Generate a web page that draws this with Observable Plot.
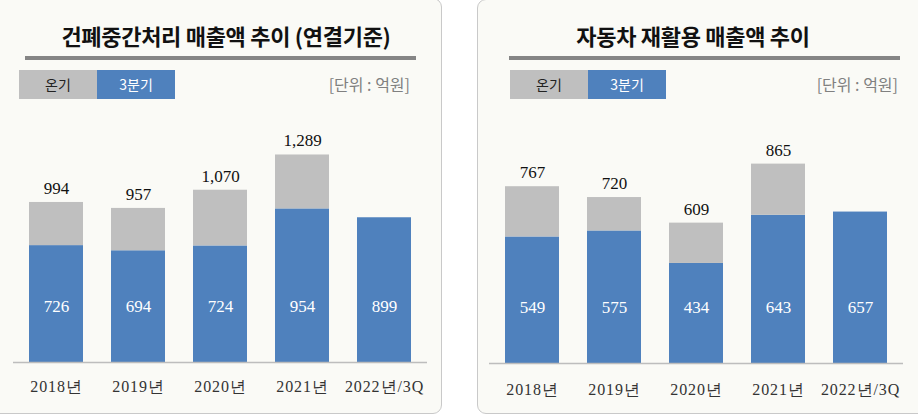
<!DOCTYPE html>
<html>
<head>
<meta charset="utf-8">
<script src="https://cdn.jsdelivr.net/npm/d3@7"></script>
<script src="https://cdn.jsdelivr.net/npm/@observablehq/plot@0.6"></script>
<style>
  html, body { margin: 0; padding: 0; background: #ffffff; }
  body { width: 918px; height: 416px; position: relative; overflow: hidden; font-family: "Noto Sans CJK KR", "Noto Sans", sans-serif; }
  .card { position: absolute; background: #fafaf6; border: 1.5px solid #c9c9c9; border-radius: 9px; box-sizing: border-box; }
  .title { position: absolute; top: 17px; font-weight: 700; font-size: 22px; color: #111; text-align: center; line-height: 36px; letter-spacing: -0.3px; }
  .rule { position: absolute; top: 56px; height: 4px; background: #858585; }
  .leg { position: absolute; top: 70px; height: 29px; width: 78px; font-size: 14px; line-height: 29px; text-align: center; }
  .unit { position: absolute; top: 70px; line-height: 29px; font-size: 16px; color: #808080; text-align: right; }
  .plot { position: absolute; top: 100px; }
  g[aria-label="x-axis tick label"] text { letter-spacing: 0.9px; }
</style>
</head>
<body>
<div class="card" style="left:-12px; top:-2px; width:454px; height:416px;"></div>
<div class="card" style="left:477px; top:-1px; width:460px; height:415px;"></div>

<div class="title" style="left:0; width:452px;">건폐중간처리 매출액 추이 (연결기준)</div>
<div class="rule" style="left:25px; width:391px;"></div>
<div class="leg" style="left:19px; background:#bfbfbf; color:#222;">온기</div>
<div class="leg" style="left:97px; background:#4f81bd; color:#fff;">3분기</div>
<div class="unit" style="left:250px; width:160px;">[단위 : 억원]</div>

<div class="title" style="left:478px; width:430px;">자동차 재활용 매출액 추이</div>
<div class="rule" style="left:509px; width:391px;"></div>
<div class="leg" style="left:510px; background:#bfbfbf; color:#222;">온기</div>
<div class="leg" style="left:588px; background:#4f81bd; color:#fff;">3분기</div>
<div class="unit" style="left:738px; width:160px;">[단위 : 억원]</div>

<div id="p1" class="plot" style="left:0;"></div>
<div id="p2" class="plot" style="left:476px;"></div>

<script>
const years = ["2018년", "2019년", "2020년", "2021년", "2022년/3Q"];
// 건폐중간처리 (연결기준)
const wasteFull = [994, 957, 1070, 1289, null];
const wasteQ3 = [726, 694, 724, 954, 899];
// 자동차 재활용
const carFull = [767, 720, 609, 865, null];
const carQ3 = [549, 575, 434, 643, 657];

const GRAY = "#bfbfbf", BLUE = "#4f81bd";
const numFont = "'Liberation Serif', 'DejaVu Serif', serif";

function makePlot(full, q3, ymax, mb, width, mr) {
  const rows = years.map((y, i) => ({year: y, full: full[i], q3: q3[i]}));
  const fullRows = rows.filter(d => d.full != null);
  return Plot.plot({
    width, height: 300,
    marginLeft: 13, marginRight: mr, marginTop: 0, marginBottom: mb,
    style: {background: "transparent", fontFamily: numFont, fontSize: "16px", color: "#333"},
    x: {domain: years, paddingInner: 0.337, paddingOuter: 0.165, label: null},
    y: {domain: [0, ymax], axis: null},
    marks: [
      Plot.barY(rows, {x: "year", y1: 0, y2: "q3", fill: BLUE}),
      Plot.barY(fullRows, {x: "year", y1: "q3", y2: "full", fill: GRAY}),
      Plot.ruleY([0], {stroke: "#bdbdbd", strokeWidth: 1.5}),
      Plot.text(fullRows, {x: "year", y: "full", text: d => d3.format(",")(d.full), dy: -14,
        fill: "#111", fontSize: 17, fontFamily: numFont}),
      Plot.text(rows, {x: "year", y: 0, text: d => d3.format(",")(d.q3), dy: -56,
        fill: "#ffffff", fontSize: 17, fontFamily: numFont}),
      Plot.axisX({tickSize: 0, tickPadding: mb === 38 ? 18 : 20, fontSize: 16, fill: "#333",
        fontFamily: numFont, label: null})
    ]
  });
}

document.getElementById("p1").append(makePlot(wasteFull, wasteQ3, 262 / 0.161, 38, 441, 14));
document.getElementById("p2").append(makePlot(carFull, carQ3, 263 / 0.2305, 37, 442, 15));
</script>
</body>
</html>
